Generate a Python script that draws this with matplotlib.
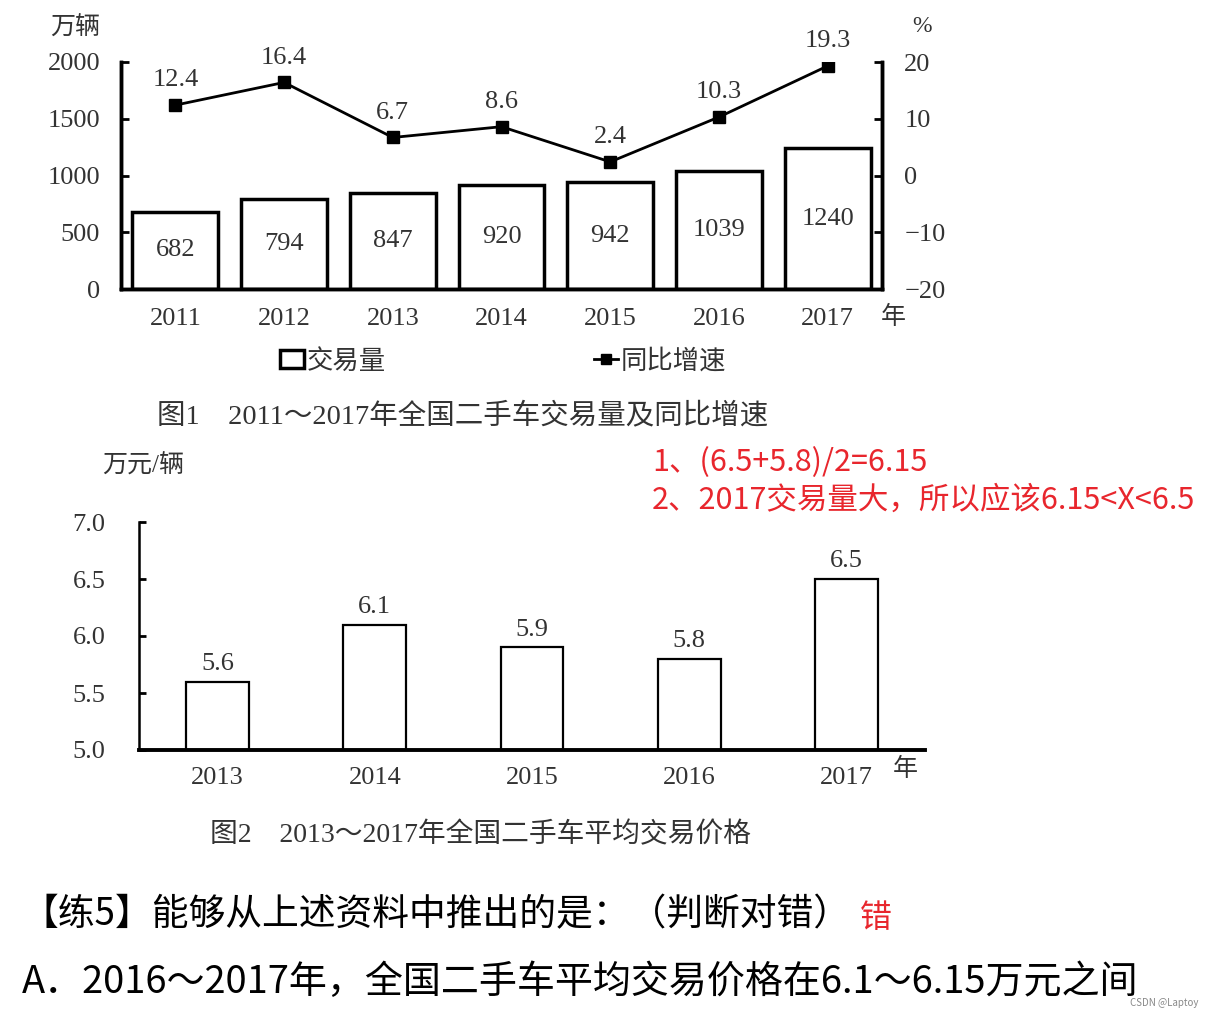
import matplotlib.pyplot as plt
from matplotlib.lines import Line2D
from matplotlib.patches import Patch

# data
years1 = ['2011', '2012', '2013', '2014', '2015', '2016', '2017']
volume = [682, 794, 847, 920, 942, 1039, 1240]
growth = [12.4, 16.4, 6.7, 8.6, 2.4, 10.3, 19.3]

years2 = ['2013', '2014', '2015', '2016', '2017']
price = [5.6, 6.1, 5.9, 5.8, 6.5]

cap1 = '图1\u30002011～2017年全国二手车交易量及同比增速'
cap2 = '图2\u30002013～2017年全国二手车平均交易价格'
note1 = '1、(6.5+5.8)/2=6.15'
note2 = '2、2017交易量大，所以应该6.15<X<6.5'
question = '【练5】能够从上述资料中推出的是：（判断对错）'
answer = '错'
option_a = 'A．2016～2017年，全国二手车平均交易价格在6.1～6.15万元之间'

SERIF = ['Liberation Serif', 'Noto Sans CJK SC']
SANS = ['Noto Sans CJK SC', 'DejaVu Sans']
GREY = '#333333'
RED = '#e8262d'
FS = 19

plt.rcParams['font.family'] = SERIF

W, H = 1215, 1019
fig = plt.figure(figsize=(W / 100, H / 100), dpi=100)


def fx(px):
    return px / W


def fy(py):
    return 1 - py / H


# ---- chart 1 ----
ax1 = fig.add_axes([fx(121), fy(289), fx(882) - fx(121), fy(62) - fy(289)])
x1 = range(len(years1))
ax1.bar(x1, volume, width=0.79, color='white', edgecolor='black', linewidth=2.5, zorder=2)
for i, v in enumerate(volume):
    ax1.text(i, v / 2, str(v), ha='center', va='center', fontsize=FS, color=GREY)
ax1.set_xlim(-0.5, 6.5)
ax1.set_ylim(0, 2000)
ax1.set_yticks([0, 500, 1000, 1500, 2000])
ax1.set_xticks(list(x1))
ax1.set_xticklabels(years1)
ax1.spines['top'].set_visible(False)
for s in ['left', 'right', 'bottom']:
    ax1.spines[s].set_linewidth(2.5)
ax1.tick_params(axis='y', direction='in', length=6, width=2, labelsize=FS, labelcolor=GREY, pad=15)
ax1.tick_params(axis='x', length=0, labelsize=FS, labelcolor=GREY, pad=14)

ax1r = ax1.twinx()
ax1r.plot(list(x1), growth, color='black', linewidth=2, marker='s', markersize=8, zorder=3)
for i, g in enumerate(growth):
    ax1r.annotate(f'{g}', (i, g), xytext=(0, 10), textcoords='offset points',
                  ha='center', va='bottom', fontsize=FS, color=GREY)
ax1r.set_ylim(-20, 20)
ax1r.set_yticks([-20, -10, 0, 10, 20])
ax1r.set_yticklabels(['−20', '−10', '0', '10', '20'])
ax1r.spines['top'].set_visible(False)
for s in ['left', 'right', 'bottom']:
    ax1r.spines[s].set_linewidth(2.5)
ax1r.tick_params(axis='y', direction='in', length=6, width=2, labelsize=FS, labelcolor=GREY, pad=16)

fig.text(fx(75), fy(28), '万辆', ha='center', va='center', fontsize=18, color=GREY)
fig.text(fx(922), fy(27), '%', ha='center', va='center', fontsize=17, color=GREY)
fig.text(fx(893), fy(317), '年', ha='center', va='center', fontsize=18, color=GREY)

handles = [Patch(facecolor='white', edgecolor='black', linewidth=2.5),
           Line2D([0], [0], color='black', linewidth=2, marker='s', markersize=7)]
fig.legend(handles, ['交易量', '同比增速'], loc='center', bbox_to_anchor=(fx(503), fy(361)),
           ncol=2, frameon=False, fontsize=19, handlelength=0.9, handletextpad=0.1,
           columnspacing=7.9, labelcolor=GREY)

fig.text(fx(157), fy(416), cap1, ha='left', va='center', fontsize=20.5, color=GREY)

# ---- chart 2 ----
ax2 = fig.add_axes([fx(139), fy(750), fx(925) - fx(139), fy(522) - fy(750)])
x2 = range(len(years2))
ax2.bar(x2, [p - 5.0 for p in price], bottom=5.0, width=0.40, color='white',
        edgecolor='black', linewidth=1.6, zorder=2)
for i, p in enumerate(price):
    ax2.text(i, p + 0.06, f'{p}', ha='center', va='bottom', fontsize=FS, color=GREY)
ax2.set_xlim(-0.5, 4.5)
ax2.set_ylim(5.0, 7.0)
ax2.set_yticks([5.0, 5.5, 6.0, 6.5, 7.0])
ax2.set_yticklabels(['5.0', '5.5', '6.0', '6.5', '7.0'])
ax2.set_xticks(list(x2))
ax2.set_xticklabels(years2)
ax2.spines['top'].set_visible(False)
ax2.spines['right'].set_visible(False)
ax2.spines['left'].set_linewidth(1.8)
ax2.spines['bottom'].set_linewidth(2.8)
ax2.tick_params(axis='y', direction='in', length=5, width=2, labelsize=FS, labelcolor=GREY, pad=24)
ax2.tick_params(axis='x', length=0, labelsize=FS, labelcolor=GREY, pad=12)

fig.text(fx(143), fy(466), '万元/辆', ha='center', va='center', fontsize=18, color=GREY)
fig.text(fx(905), fy(769), '年', ha='center', va='center', fontsize=18, color=GREY)
fig.text(fx(210), fy(835), cap2, ha='left', va='center', fontsize=20, color=GREY)

# ---- notes ----
fig.text(fx(652), fy(463), note1, ha='left', va='center', fontsize=22, color=RED, family=SANS)
fig.text(fx(652), fy(500), note2, ha='left', va='center', fontsize=22, color=RED, family=SANS)

fig.text(fx(22), fy(915), question, ha='left', va='center', fontsize=26.5, color='black', family=SANS)
fig.text(fx(860), fy(918), answer, ha='left', va='center', fontsize=23, color=RED, family=SANS)
fig.text(fx(22), fy(982), option_a, ha='left', va='center', fontsize=27.4, color='black', family=SANS)
fig.text(fx(1198), fy(1003), 'CSDN @Laptoy', ha='right', va='center', fontsize=7, color='#888888', family=SANS)

fig.savefig('out.png', dpi=100, facecolor='white')
